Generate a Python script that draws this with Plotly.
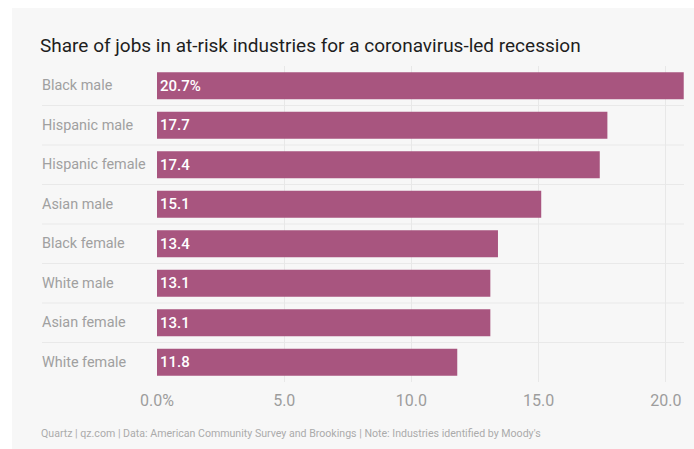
import plotly.graph_objects as go

categories = ["Black male", "Hispanic male", "Hispanic female", "Asian male",
              "Black female", "White male", "Asian female", "White female"]
values = [20.7, 17.7, 17.4, 15.1, 13.4, 13.1, 13.1, 11.8]
labels = ["20.7%", "17.7", "17.4", "15.1", "13.4", "13.1", "13.1", "11.8"]
tick_vals = [0, 5, 10, 15, 20]
tick_text = ["0.0%", "5.0", "10.0", "15.0", "20.0"]

W, H = 694, 449
L, R, T, B = 157, 9, 66, 67  # plot area: x 157..685, y 66..382
PW, PH = W - L - R, H - T - B

def px(x):
    return (x - L) / PW

def py(y):
    return (H - B - y) / PH

FONT = "Roboto"
BAR = "#a8557f"
BG = "#f7f7f7"

fig = go.Figure(go.Bar(
    x=values, y=categories, orientation="h",
    marker=dict(color=BAR, line=dict(width=0)),
    text=labels, textposition="inside", insidetextanchor="start",
    textfont=dict(family=FONT, size=15, color="white", weight=500),
    constraintext="none", cliponaxis=False, hoverinfo="skip",
))

shapes = [dict(type="rect", xref="paper", yref="paper", x0=px(12), x1=px(W + 2),
               y0=py(H + 2), y1=py(8), fillcolor=BG, line=dict(width=0), layer="below")]
for i in range(len(categories) - 1):
    shapes.append(dict(type="line", xref="paper", yref="y", x0=px(42), x1=px(684),
                       y0=i + 0.5, y1=i + 0.5, line=dict(color="#e9e9e9", width=1),
                       layer="below"))

annotations = []
for c in categories:
    annotations.append(dict(text=c, xref="paper", yref="y", x=px(40), y=c,
                            xanchor="left", yanchor="middle", showarrow=False,
                            font=dict(family=FONT, size=14.4, color="#a0a0a0")))
annotations.append(dict(text="Share of jobs in at-risk industries for a coronavirus-led recession",
                        xref="paper", yref="paper", x=px(38), y=py(45), xanchor="left",
                        yanchor="middle", showarrow=False,
                        font=dict(family=FONT, size=19, color="#1e1e1e")))
annotations.append(dict(text="Quartz | qz.com | Data: American Community Survey and Brookings | Note: Industries identified by Moody's",
                        xref="paper", yref="paper", x=px(39), y=py(433), xanchor="left",
                        yanchor="middle", showarrow=False,
                        font=dict(family=FONT, size=10.6, color="#ababab")))

fig.update_layout(
    width=W, height=H,
    margin=dict(l=L, r=R, t=T, b=B, pad=0),
    paper_bgcolor="white", plot_bgcolor=BG,
    showlegend=False, bargap=0.32,
    xaxis=dict(range=[0, 20.75], tickvals=tick_vals, ticktext=tick_text,
               showgrid=True, gridcolor="#e8e8e8", gridwidth=1, zeroline=False,
               showline=False, ticks="", ticklen=0, ticklabelstandoff=7,
               tickfont=dict(family=FONT, size=16, color="#9d9d9d"), fixedrange=True),
    yaxis=dict(autorange="reversed", showticklabels=False, showgrid=False,
               zeroline=False, showline=False, ticks="", fixedrange=True),
    shapes=shapes, annotations=annotations,
)

fig.write_html("out.html")
